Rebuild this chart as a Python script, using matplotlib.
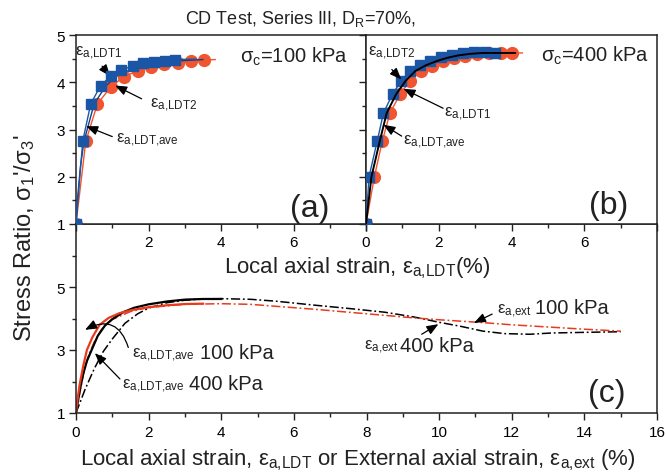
import numpy as np
import matplotlib
matplotlib.use('Agg')
import matplotlib.pyplot as plt
from matplotlib.ticker import MultipleLocator, FixedLocator

plt.rcParams['font.family'] = ['Liberation Sans', 'DejaVu Sans']
plt.rcParams['mathtext.fontset'] = 'custom'
plt.rcParams['mathtext.rm'] = 'Liberation Sans'
plt.rcParams['mathtext.it'] = 'Liberation Sans:italic'
plt.rcParams['mathtext.bf'] = 'Liberation Sans:bold'

AZUL = '#1b56a6'
AZUL_ESC = '#123f8a'
VERM = '#f0552f'
VERM_LINHA = '#ea3a1e'
CINZA = '#222222'

# (a) sigma_c = 100 kPa  (ultimo ponto de cada serie = fim da linha, sem marcador)
a_ldt1_x = [0.0, 0.185, 0.405, 0.68, 0.96, 1.24, 1.56, 1.86, 2.16, 2.46, 2.74, 3.30]
a_ldt1_y = [1.0, 2.75, 3.54, 3.93, 4.13, 4.26, 4.34, 4.40, 4.43, 4.46, 4.48, 4.49]
a_ldt2_x = [0.0, 0.27, 0.59, 0.97, 1.33, 1.70, 2.07, 2.44, 2.80, 3.17, 3.54, 3.84]
a_ldt2_y = [1.0, 2.75, 3.54, 3.91, 4.12, 4.24, 4.32, 4.39, 4.41, 4.46, 4.47, 4.48]
a_ave_x = [0.0, 0.05, 0.12, 0.22, 0.50, 0.82, 1.10, 1.45, 1.80, 2.20, 2.60, 3.00, 3.50]
a_ave_y = [1.0, 1.60, 2.20, 2.75, 3.54, 3.92, 4.12, 4.25, 4.34, 4.40, 4.44, 4.46, 4.48]

# (b) sigma_c = 400 kPa
b_ldt2_x = [0.0, 0.083, 0.31, 0.48, 0.73, 0.97, 1.21, 1.49, 1.77, 2.07, 2.36, 2.67, 2.96, 3.27, 3.56, 3.60]
b_ldt2_y = [1.0, 2.00, 2.76, 3.35, 3.75, 4.03, 4.24, 4.37, 4.46, 4.53, 4.57, 4.61, 4.63, 4.63, 4.62, 4.62]
b_ldt1_x = [0.0, 0.23, 0.45, 0.66, 0.94, 1.21, 1.51, 1.81, 2.12, 2.43, 2.73, 3.05, 3.37, 3.70, 4.02, 4.30]
b_ldt1_y = [1.0, 2.00, 2.76, 3.35, 3.75, 4.03, 4.23, 4.35, 4.44, 4.51, 4.56, 4.60, 4.62, 4.62, 4.62, 4.62]
b_ave_x = [0.0, 0.15, 0.38, 0.57, 0.83, 1.09, 1.36, 1.65, 1.95, 2.25, 2.55, 2.85, 3.20, 3.60, 4.10]
b_ave_y = [1.0, 2.00, 2.76, 3.35, 3.75, 4.03, 4.24, 4.36, 4.45, 4.52, 4.57, 4.60, 4.62, 4.62, 4.62]

# (c) LDT medio x deformacao externa
c_ldt100_x = [0.0, 0.05, 0.10, 0.20, 0.30, 0.45, 0.65, 0.90, 1.20, 1.50, 2.00, 2.50, 3.00, 3.50]
c_ldt100_y = [1.0, 1.50, 1.90, 2.50, 3.00, 3.40, 3.80, 4.02, 4.17, 4.26, 4.36, 4.42, 4.46, 4.47]
c_ldt400_x = [0.0, 0.10, 0.20, 0.30, 0.43, 0.60, 0.80, 1.00, 1.30, 1.60, 2.00, 2.50, 3.00, 3.50, 4.00]
c_ldt400_y = [1.0, 1.70, 2.25, 2.65, 3.00, 3.45, 3.78, 3.98, 4.20, 4.34, 4.45, 4.54, 4.60, 4.62, 4.62]
c_ext100_x = [0.0, 0.10, 0.20, 0.35, 0.50, 0.70, 1.00, 1.50, 2.00, 3.00, 4.00, 4.80, 5.70, 6.60,
              7.50, 8.50, 9.30, 10.0, 11.2, 12.0, 13.0, 14.0, 15.0]
c_ext100_y = [1.0, 1.60, 2.20, 2.85, 3.25, 3.65, 3.97, 4.22, 4.35, 4.45, 4.47, 4.45, 4.37, 4.29,
              4.20, 4.10, 4.02, 3.96, 3.87, 3.80, 3.73, 3.66, 3.60]
c_ext400_x = [0.0, 0.25, 0.50, 0.75, 1.00, 1.35, 1.70, 2.00, 2.50, 3.00, 3.50, 4.00, 4.80, 5.50,
              6.60, 7.50, 8.50, 9.30, 10.0, 10.6, 11.2, 11.8, 12.5, 13.1, 14.0, 15.0]
c_ext400_y = [1.0, 1.75, 2.40, 2.95, 3.35, 3.85, 4.15, 4.33, 4.50, 4.58, 4.62, 4.63, 4.61, 4.55,
              4.42, 4.32, 4.20, 4.05, 3.88, 3.75, 3.60, 3.52, 3.50, 3.54, 3.56, 3.58]

W, H = 666, 477
fig = plt.figure(figsize=(W / 100, H / 100), dpi=100)
ax_c = fig.add_axes([76 / W, (H - 414) / H, 581 / W, 189 / H])
ax_a = fig.add_axes([76 / W, (H - 225) / H, 290 / W, 189 / H])
ax_b = fig.add_axes([366 / W, (H - 225) / H, 291 / W, 189 / H])

SETA = dict(arrowstyle='-|>,head_length=0.7,head_width=0.28', color='black',
            lw=0.9, mutation_scale=10, shrinkA=0, shrinkB=0)


def estilo(ax):
  for s in ax.spines.values():
    s.set_color(CINZA)
    s.set_linewidth(1.1)
  ax.tick_params(which='major', direction='out', length=5, width=1.0,
                 labelsize=11, color=CINZA, pad=3)
  ax.tick_params(which='minor', direction='out', length=3, width=1.0, color=CINZA)


def eps(ax, x, y, sub, size=12):
  # virgula entre chaves para o mathtext nao colocar espaco depois dela
  sub = sub.replace(',', '{,}')
  ax.text(x, y, r'$\mathregular{\varepsilon_{%s}}$' % sub, fontsize=size,
          ha='left', va='baseline', color=CINZA)


def seta(ax, x0, y0, x1, y1, rad=0.0):
  p = dict(SETA)
  if rad:
    p['connectionstyle'] = 'arc3,rad=%s' % rad
  ax.annotate('', xy=(x1, y1), xytext=(x0, y0), arrowprops=p)


# ---- (a)
ax = ax_a
ax.plot(a_ldt2_x, a_ldt2_y, color=VERM, lw=1.0, marker='o', ms=8.5, mec=VERM,
        markevery=slice(0, -1), zorder=2)
ax.plot(a_ave_x, a_ave_y, color=AZUL_ESC, lw=1.0, zorder=3)
ax.plot(a_ldt1_x, a_ldt1_y, color=AZUL, lw=1.0, marker='s', ms=7.5, mec=AZUL,
        markevery=slice(0, -1), zorder=4)
ax.set_xlim(0, 8)
ax.set_ylim(1, 5)
ax.xaxis.set_major_locator(FixedLocator([0, 2, 4, 6, 8]))
ax.set_xticklabels(['', '2', '4', '6', ''])
ax.xaxis.set_minor_locator(MultipleLocator(1))
ax.yaxis.set_major_locator(MultipleLocator(1))
ax.yaxis.set_minor_locator(MultipleLocator(0.5))
estilo(ax)
ax.text(4.52, 4.56, r'$\mathregular{\sigma_c}$=100 kPa', fontsize=14.5,
        ha='left', va='center', color=CINZA)
ax.text(0.805, 0.085, '(a)', transform=ax.transAxes, fontsize=23, ha='center',
        va='center', color=CINZA)
eps(ax, -0.02, 4.58, 'a,LDT1')
seta(ax, 0.72, 4.34, 0.94, 4.13)
eps(ax, 2.04, 3.49, 'a,LDT2')
seta(ax, 1.81, 3.65, 1.08, 3.93)
eps(ax, 1.10, 2.74, 'a,LDT,ave')
seta(ax, 1.0, 2.85, 0.28, 3.07)

# ---- (b)
ax = ax_b
ax.plot(b_ldt1_x, b_ldt1_y, color=VERM, lw=1.0, marker='o', ms=8.5, mec=VERM,
        markevery=slice(0, -1), zorder=2)
ax.plot(b_ldt2_x, b_ldt2_y, color=AZUL, lw=1.0, marker='s', ms=7.5, mec=AZUL,
        markevery=slice(0, -1), zorder=3)
ax.plot(b_ave_x, b_ave_y, color='black', lw=1.4, zorder=4)
ax.set_xlim(0, 8)
ax.set_ylim(1, 5)
ax.xaxis.set_major_locator(FixedLocator([0, 2, 4, 6, 8]))
ax.set_xticklabels(['0', '2', '4', '6', ''])
ax.xaxis.set_minor_locator(MultipleLocator(1))
ax.yaxis.set_major_locator(MultipleLocator(1))
ax.yaxis.set_minor_locator(MultipleLocator(0.5))
ax.set_yticklabels([])
estilo(ax)
ax.text(4.82, 4.58, r'$\mathregular{\sigma_c}$=400 kPa', fontsize=14.5,
        ha='left', va='center', color=CINZA)
ax.text(0.833, 0.103, '(b)', transform=ax.transAxes, fontsize=23, ha='center',
        va='center', color=CINZA)
eps(ax, 0.06, 4.58, 'a,LDT2')
seta(ax, 0.71, 4.27, 0.97, 4.06)
eps(ax, 2.15, 3.29, 'a,LDT1')
seta(ax, 2.12, 3.45, 1.03, 3.86)
eps(ax, 1.02, 2.69, 'a,LDT,ave')
seta(ax, 0.98, 2.86, 0.48, 3.10)

# ---- (c)
ax = ax_c
tracejado = (0, (6, 1.8, 1.2, 1.8))
ax.plot(c_ext400_x, c_ext400_y, color='black', lw=1.1, ls=tracejado)
ax.plot(c_ext100_x, c_ext100_y, color=VERM_LINHA, lw=1.1, ls=tracejado)
ax.plot(c_ldt400_x, c_ldt400_y, color='black', lw=1.6)
ax.plot(c_ldt100_x, c_ldt100_y, color=VERM_LINHA, lw=1.6)
ax.set_xlim(0, 16)
ax.set_ylim(1, 7)
ax.xaxis.set_major_locator(MultipleLocator(2))
ax.xaxis.set_minor_locator(MultipleLocator(1))
ax.yaxis.set_major_locator(FixedLocator([1, 3, 5]))
ax.yaxis.set_minor_locator(FixedLocator([2, 4, 6]))
estilo(ax)
ax.tick_params(axis='x', which='major', pad=4)
ax.text(0.913, 0.105, '(c)', transform=ax.transAxes, fontsize=23, ha='center',
        va='center', color=CINZA)
eps(ax, 1.53, 2.79, 'a,LDT,ave')
ax.text(3.42, 2.76, '100 kPa', fontsize=14.5, ha='left', va='baseline', color=CINZA)
seta(ax, 1.44, 3.08, 0.25, 3.64, rad=0.6)
eps(ax, 1.26, 1.79, 'a,LDT,ave')
ax.text(3.12, 1.76, '400 kPa', fontsize=14.5, ha='left', va='baseline', color=CINZA)
seta(ax, 1.21, 2.08, 0.52, 2.90)
eps(ax, 11.59, 4.19, 'a,ext')
ax.text(12.64, 4.19, '100 kPa', fontsize=14.5, ha='left', va='baseline', color=CINZA)
seta(ax, 11.46, 4.14, 10.96, 3.86)
eps(ax, 7.92, 3.03, 'a,ext')
ax.text(8.93, 2.97, '400 kPa', fontsize=14.5, ha='left', va='baseline', color=CINZA)
seta(ax, 9.52, 3.50, 9.98, 3.82)

# textos gerais
fig.text(300 / W, 1 - 19 / H, r'CD Test, Series III, $\mathregular{D_R}$=70%,',
         fontsize=13, ha='center', va='center', color=CINZA)
fig.text(357 / W, 1 - 268 / H, r'Local axial strain, $\mathregular{\varepsilon_{a{,}LDT}}$(%)',
         fontsize=16, ha='center', va='center', color=CINZA)
fig.text(358 / W, 1 - 460 / H,
         r'Local axial strain, $\mathregular{\varepsilon_{a{,}LDT}}$ or External axial strain, '
         r'$\mathregular{\varepsilon_{a{,}ext}}$ (%)',
         fontsize=16, ha='center', va='center', color=CINZA)
fig.text(25 / W, 1 - 238 / H, r"Stress Ratio, $\mathregular{\sigma_1}$'/$\mathregular{\sigma_3}$'",
         fontsize=17, ha='center', va='center', rotation=90, color=CINZA)

fig.savefig('out.png', dpi=100)
